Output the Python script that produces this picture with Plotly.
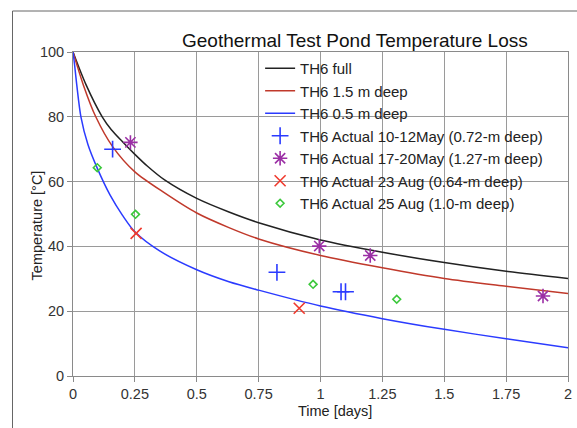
import plotly.graph_objects as go

# ---- data ----
full_t = [0, 0.052, 0.118, 0.155, 0.2, 0.25, 0.3, 0.37, 0.5, 0.63, 0.75, 1.0, 1.25, 1.5, 1.75, 2.0]
full_T = [100, 90, 80, 76, 72.3, 68.4, 64.8, 60.5, 54.8, 50.6, 47.3, 42.0, 38.2, 35.0, 32.3, 30.1]

deep15_t = [0, 0.041, 0.092, 0.16, 0.25, 0.37, 0.5, 0.63, 0.75, 1.0, 1.25, 1.5, 1.75, 2.0]
deep15_T = [100, 90, 80, 70.8, 63.0, 56.5, 50.3, 45.8, 42.3, 37.2, 33.4, 30.1, 27.7, 25.5]

deep05_t = [0, 0.005, 0.015, 0.032, 0.06, 0.097, 0.15, 0.2, 0.25, 0.35, 0.5, 0.63, 0.75, 1.0, 1.25, 1.5, 1.75, 2.0]
deep05_T = [100, 97, 90, 80, 71.5, 64.3, 55.8, 49.6, 44.5, 38.6, 32.8, 29.1, 26.5, 21.6, 17.7, 14.4, 11.5, 8.7]

may10_t = [0.16, 0.824, 1.083, 1.101]
may10_T = [70.0, 32.0, 26.0, 26.0]

may17_t = [0.232, 0.995, 1.201, 1.899]
may17_T = [72.1, 40.1, 37.2, 24.7]

aug23_t = [0.255, 0.914]
aug23_T = [44.0, 20.9]

aug25_t = [0.098, 0.2525, 0.970, 1.308]
aug25_T = [64.3, 49.9, 28.3, 23.7]

x_ticks = [0, 0.25, 0.5, 0.75, 1, 1.25, 1.5, 1.75, 2]
x_labels = ["0", "0.25", "0.5", "0.75", "1", "1.25", "1.5", "1.75", "2"]
y_ticks = [0, 20, 40, 60, 80, 100]

FONT = "Liberation Sans, Arial, sans-serif"

fig = go.Figure()
fig.add_trace(go.Scatter(x=full_t, y=full_T, mode="lines", name="TH6 full",
                         line=dict(color="#222222", width=1.5, shape="spline", smoothing=0.8)))
fig.add_trace(go.Scatter(x=deep15_t, y=deep15_T, mode="lines", name="TH6 1.5 m deep",
                         line=dict(color="#c0392b", width=1.5, shape="spline", smoothing=0.8)))
fig.add_trace(go.Scatter(x=deep05_t, y=deep05_T, mode="lines", name="TH6 0.5 m deep",
                         line=dict(color="#2b3bff", width=1.5, shape="spline", smoothing=0.8)))
fig.add_trace(go.Scatter(x=may10_t, y=may10_T, mode="markers", name="TH6 Actual 10-12May (0.72-m deep)",
                         marker=dict(symbol="cross-thin", size=12, color="#2b3bff",
                                     line=dict(color="#2b3bff", width=1.6))))
fig.add_trace(go.Scatter(x=may17_t, y=may17_T, mode="markers", name="TH6 Actual 17-20May (1.27-m deep)",
                         marker=dict(symbol="asterisk-open", size=12, color="#9b2fa5",
                                     line=dict(color="#9b2fa5", width=1.6))))
fig.add_trace(go.Scatter(x=aug23_t, y=aug23_T, mode="markers", name="TH6 Actual 23 Aug (0.64-m deep)",
                         marker=dict(symbol="x-thin-open", size=11, color="#f03a2e",
                                     line=dict(color="#f03a2e", width=1.6))))
fig.add_trace(go.Scatter(x=aug25_t, y=aug25_T, mode="markers", name="TH6 Actual 25 Aug (1.0-m deep)",
                         marker=dict(symbol="diamond-open", size=6, color="#3cc83c",
                                     line=dict(color="#3cc83c", width=1.6))))

axis_common = dict(showgrid=True, gridcolor="#9a9a9a", gridwidth=1,
                   showline=True, linecolor="#8a8a8a", linewidth=1,
                   ticks="outside", ticklen=5, tickcolor="#8a8a8a",
                   tickfont=dict(family=FONT, size=14.5, color="#333333"),
                   zeroline=False, mirror=True)

fig.update_layout(
    width=577, height=428,
    margin=dict(l=73, r=5, t=52, b=52),
    paper_bgcolor="white", plot_bgcolor="white",
    font=dict(family=FONT, size=14, color="#222222"),
    xaxis=dict(range=[0, 2], tickvals=x_ticks, ticktext=x_labels, **axis_common),
    yaxis=dict(range=[0, 100], tickvals=y_ticks, **axis_common),
    showlegend=True,
    legend=dict(x=0.378, y=1.0, xanchor="left", yanchor="top",
                bgcolor="rgba(0,0,0,0)", borderwidth=0,
                font=dict(family=FONT, size=15, color="#222222"),
                itemwidth=30, tracegroupgap=0),
    annotations=[
        dict(text="Geothermal Test Pond Temperature Loss", xref="paper", yref="paper",
             x=0.569, y=1.037, xanchor="center", yanchor="middle", showarrow=False,
             font=dict(family=FONT, size=19, color="#111111")),
        dict(text="Temperature [°C]", xref="paper", yref="paper",
             x=-0.072, y=0.466, xanchor="center", yanchor="middle", textangle=-90,
             showarrow=False, font=dict(family=FONT, size=14.5, color="#222222")),
        dict(text="Time [days]", xref="paper", yref="paper",
             x=0.529, y=-0.108, xanchor="center", yanchor="middle",
             showarrow=False, font=dict(family=FONT, size=14.5, color="#222222")),
    ],
    shapes=[
        dict(type="rect", xref="paper", yref="paper", x0=0.381, x1=1.0, y0=0.475, y1=0.996,
             layer="between", fillcolor="white", line=dict(width=0)),
        dict(type="line", xref="paper", yref="paper", x0=-0.1222, x1=-0.1222, y0=1.1265, y1=-0.25,
             line=dict(color="#666666", width=1)),
        dict(type="line", xref="paper", yref="paper", x0=-0.1222, x1=1.05, y0=1.1265, y1=1.1265,
             line=dict(color="#666666", width=1)),
    ],
)

fig.write_html("out.html")
